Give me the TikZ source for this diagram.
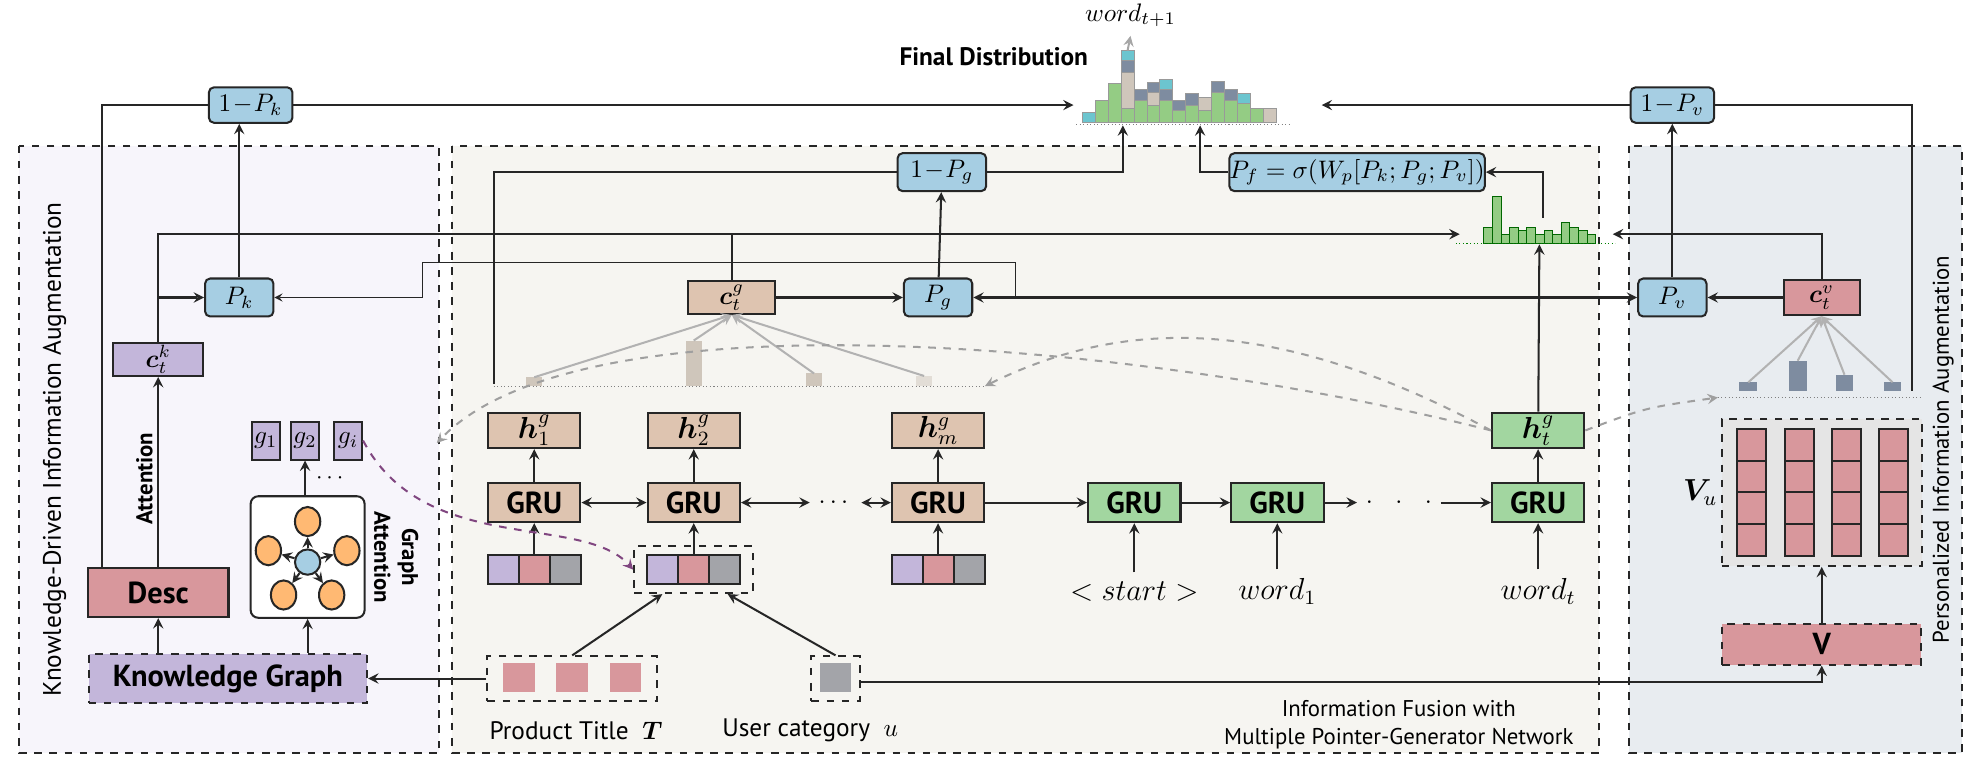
\documentclass[tikz,border=0pt]{standalone}
\usepackage{amsmath}
\usepackage{amssymb}
\usepackage{bm}
\usepackage{fontspec}
\setsansfont{PT Sans}
\usepackage{tikz}
\usetikzlibrary{arrows, shapes, positioning}

\definecolor{pblue}{HTML}{A6CEE3}
\definecolor{ptan}{HTML}{DEC4B0}
\definecolor{ppink}{HTML}{D8979C}
\definecolor{plav}{HTML}{C3B6DA}
\definecolor{pgreen}{HTML}{A2D6A0}
\definecolor{pgray}{HTML}{A3A4A9}
\definecolor{hgreen}{HTML}{94CC84}
\definecolor{hslate}{HTML}{7E8CA0}
\definecolor{hcyan}{HTML}{6CC5CF}
\definecolor{htan}{HTML}{CFC6BB}
\definecolor{bgleft}{HTML}{F7F5FB}
\definecolor{bgmid}{HTML}{F6F5F1}
\definecolor{bgright}{HTML}{E8ECF0}

\begin{document}
\begin{tikzpicture}[x=0.5pt,y=-0.5pt,
  box/.style={draw=black!85,thick,inner sep=0pt},
  pbox/.style={box,fill=pblue,rounded corners=2pt,minimum width=27pt,minimum height=15pt},
  qbox/.style={pbox,minimum width=33pt,minimum height=14pt},
  grubox/.style={box,minimum width=36.5pt,minimum height=15.5pt,font=\sffamily\bfseries\large},
  hbox/.style={box,minimum width=36.5pt,minimum height=14pt,font=\large},
  cell/.style={draw=black!85,thick,minimum width=12.25pt,minimum height=11.5pt,inner sep=0pt},
  arr/.style={-stealth,thick,black!85},
  link/.style={thick,black!85},
  panel/.style={draw=black!85,thick,dashed},
  dcurve/.style={-stealth,thick,dashed,gray!75},
  attn/.style={-stealth,thick,gray!60},
  bar/.style={draw=black!40,line width=0.3pt}]
  \useasboundingbox (0,0) rectangle (1568,608);

  % panels
  \draw[panel,fill=bgleft] (15,115) rectangle (347,595);
  \draw[panel,fill=bgmid] (357,115) rectangle (1263,595);
  \draw[panel,fill=bgright] (1287,115) rectangle (1550,595);
  \node[rotate=90,font=\sffamily] at (43,355) {Knowledge-Driven Information Augmentation};
  \node[rotate=90,font=\sffamily\small] at (1535,355) {Personalized Information Augmentation};
  \node[align=center,anchor=south,font=\sffamily\small,inner sep=1pt] at (1105,594) {Information Fusion with\\Multiple Pointer-Generator Network};

  % final distribution
  \node[font=\sffamily\bfseries] (fdlabel) at (785,45) {Final Distribution};
  \foreach \g/\t/\s/\c [count=\i from 0] in {0/0/0/8, 18/0/0/0, 31/0/0/0, 11/29/9/8, 18/0/8/0, 14/10/8/0, 18/0/8/8, 10/0/8/0, 14/0/9/0, 10/10/0/0, 24/0/9/0, 18/0/8/0, 15/0/0/8, 11/0/0/0, 0/11/0/0}{
    \pgfmathsetmacro\xa{855+10.2*\i}\pgfmathsetmacro\xb{\xa+10.2}
    \pgfmathsetmacro\ya{97-\g}\pgfmathsetmacro\yb{\ya-\t}
    \pgfmathsetmacro\yc{\yb-\s}\pgfmathsetmacro\yd{\yc-\c}
    \ifnum\g>0 \draw[bar,fill=hgreen] (\xa,97) rectangle (\xb,\ya);\fi
    \ifnum\t>0 \draw[bar,fill=htan] (\xa,\ya) rectangle (\xb,\yb);\fi
    \ifnum\s>0 \draw[bar,fill=hslate] (\xa,\yb) rectangle (\xb,\yc);\fi
    \ifnum\c>0 \draw[bar,fill=hcyan] (\xa,\yc) rectangle (\xb,\yd);\fi
  }
  \draw[densely dotted,gray] (850,98) -- (1020,98);
  \coordinate (fdtop) at (890.7,40);
  \coordinate (fdL) at (848,83);
  \coordinate (fdR) at (1044,83);
  \coordinate (fdB1) at (887,99);
  \coordinate (fdB2) at (948,99);
  \node (wnext) at (893,12) {$word_{t+1}$};
  \draw[-stealth,thick,gray!70] (fdtop) -- (wnext.south);

  % small distribution
  \foreach \h [count=\i from 0] in {12,37,7,12,10,12,7,10,7,16,12,10,7}{
    \pgfmathsetmacro\xa{1172+6.8*\i}\pgfmathsetmacro\xb{\xa+6.8}
    \draw[bar,draw=green!40!black,fill=hgreen] (\xa,192) rectangle (\xb,192-\h);
  }
  \draw[densely dotted,green!50!black] (1150,192) -- (1276,192);
  \coordinate (shL) at (1153,185);
  \coordinate (shR) at (1274,185);
  \coordinate (shB) at (1216,193);
  \coordinate (shT) at (1219,172);

  % probability boxes
  \node[qbox] (omk) at (198,83) {$1\!-\!P_k$};
  \node[qbox] (omv) at (1321,83) {$1\!-\!P_v$};
  \node[qbox,minimum width=35pt,minimum height=15pt] (omg) at (744,136) {$1\!-\!P_g$};
  \node[pbox,minimum width=100pt] (pf) at (1072,136) {$P_f=\sigma(W_p[P_k;P_g;P_v])$};
  \node[pbox] (pk) at (189,235) {$P_k$};
  \node[pbox] (pg) at (741,235) {$P_g$};
  \node[pbox] (pv) at (1321,235) {$P_v$};

  % context vectors
  \node[box,fill=ptan,minimum width=34.5pt,minimum height=13pt] (ctg) at (578,235) {$\bm{c}_t^g$};
  \node[box,fill=plav,minimum width=35.5pt,minimum height=13pt] (ctk) at (125,284) {$\bm{c}_t^k$};
  \node[box,fill=ppink,minimum width=30pt,minimum height=14pt] (ctv) at (1439,235) {$\bm{c}_t^v$};

  % encoder / decoder
  \node[grubox,fill=ptan] (g1) at (422,397) {GRU};
  \node[grubox,fill=ptan] (g2) at (548,397) {GRU};
  \node[grubox,fill=ptan] (g3) at (741,397) {GRU};
  \node (bdots) at (660,397) {$\cdots$};
  \node[grubox,fill=pgreen] (gs) at (896,397) {GRU};
  \node[grubox,fill=pgreen] (gw) at (1009,397) {GRU};
  \node[grubox,fill=pgreen] (gt) at (1215,397) {GRU};
  \node (fdots) at (1105,397) {$\cdot\ \ \cdot\ \ \cdot$};
  \node[hbox,fill=ptan] (h1) at (422,340) {$\bm{h}_1^g$};
  \node[hbox,fill=ptan] (h2) at (548,340) {$\bm{h}_2^g$};
  \node[hbox,fill=ptan] (hm) at (741,340) {$\bm{h}_m^g$};
  \node[hbox,fill=pgreen] (ht) at (1215,340) {$\bm{h}_t^g$};
  \node[font=\large] (st) at (896,467) {$<start>$};
  \node[font=\large] (w1) at (1009,467) {$word_1$};
  \node[font=\large] (wt) at (1215,467) {$word_t$};

  \foreach \p/\x in {a/422,b/548,c/741}{
    \node[cell,fill=plav] (\p1) at (\x-24.5,450) {};
    \node[cell,fill=ppink] (\p2) at (\x,450) {};
    \node[cell,fill=pgray] (\p3) at (\x+24.5,450) {};
  }
  \node[panel,inner sep=0pt,minimum width=47pt,minimum height=18.5pt] (inb) at (548,450) {};

  \draw[arr] (a2) -- (g1);
  \draw[arr] (b2) -- (g2);
  \draw[arr] (c2) -- (g3);
  \draw[arr] (g1) -- (h1);
  \draw[arr] (g2) -- (h2);
  \draw[arr] (g3) -- (hm);
  \draw[arr] (gt) -- (ht);
  \draw[arr,stealth-stealth] (g1) -- (g2);
  \draw[arr,stealth-stealth] (g2) -- (bdots);
  \draw[arr,stealth-stealth] (bdots) -- (g3);
  \draw[arr] (g3) -- (gs);
  \draw[arr] (gs) -- (gw);
  \draw[arr] (gw) -- (fdots);
  \draw[arr] (fdots) -- (gt);
  \draw[arr] (st) -- (gs);
  \draw[arr] (w1) -- (gw);
  \draw[arr] (wt) -- (gt);

  % inputs
  \node[panel,inner sep=0pt,minimum width=67pt,minimum height=17.5pt] (pt) at (452,536) {};
  \foreach \x in {410,452,494}
    \fill[ppink] (\x-12.5,524) rectangle (\x+12.5,547);
  \node[panel,inner sep=0pt,minimum width=19pt,minimum height=17.5pt] (uc) at (660,536) {};
  \fill[pgray] (647.5,524) rectangle (672.5,547);
  \node[font=\sffamily] at (455,577) {Product Title\ \ $\bm{T}$};
  \node[font=\sffamily] at (640,577) {User category\ \ $u$};
  \draw[arr] (pt.north) -- ([xshift=11.5pt]inb.south west);
  \draw[arr] (uc.north) -- ([xshift=-10.5pt]inb.south east);

  % knowledge side
  \node[panel,fill=plav,inner sep=0pt,minimum width=110pt,minimum height=19.5pt,font=\sffamily\bfseries\large] (kg) at (180,536) {Knowledge Graph};
  \node[box,fill=ppink,minimum width=55.5pt,minimum height=19.5pt,font=\sffamily\bfseries\large] (desc) at (125,468) {Desc};
  \node[box,fill=white,rounded corners=3pt,minimum width=45pt,minimum height=48pt] (ga) at (243,440) {};
  \node[circle,draw=black!85,thick,fill=pblue,inner sep=0pt,minimum size=10pt] (gc) at (243,444) {};
  \foreach \n/\x/\y in {o1/243/412, o2/212/435, o3/274/435, o4/224/470, o5/262/470}{
    \node[ellipse,draw=black!85,thick,fill=orange!55,inner sep=0pt,minimum width=10pt,minimum height=11.5pt] (\n) at (\x,\y) {};
    \draw[-stealth,thick,black!85] (gc) -- (\n);
  }
  \node[rotate=-90,align=center,font=\sffamily\bfseries\small,inner sep=0pt] at (313,440) {Graph\\Attention};
  \node[box,fill=plav,minimum width=11pt,minimum height=15pt] (gn1) at (210,348) {$g_1$};
  \node[box,fill=plav,minimum width=11pt,minimum height=15pt] (gn2) at (241,348) {$g_2$};
  \node[box,fill=plav,minimum width=11pt,minimum height=15pt] (gni) at (275,348) {$g_i$};
  \node[font=\small] at (262,378) {$\cdots$};
  \draw[arr] (pt.west) -- (kg.east);
  \draw[arr] (kg.north -| desc) -- (desc.south);
  \draw[arr] (kg.north -| ga) -- (ga.south);
  \draw[arr] (ga.north -| gn2) -- (gn2.south);
  \draw[arr] (desc.north) -- (ctk.south);
  \node[rotate=90,font=\sffamily\bfseries\small] at (114,378) {Attention};
  \draw[link] ([xshift=6pt]desc.north west) |- (omk.west);
  \draw[arr] (omk.east) -- (fdL);
  \draw[arr] (pk) -- (pk |- omk.south);
  \draw[arr] (ctk.north) |- (shL);
  \draw[arr] (ctk.north |- pk) -- (pk.west);

  % generator side
  \draw[link] (ctg.north) -- (ctg.north |- shL);
  \draw[arr] (ctg) -- (pg);
  \draw[arr] (pg) -- (omg);
  \draw[arr] (omg.east) -| (fdB1);
  \draw[link] (omg.west) -| (390,303);
  \draw[arr] (pf.west) -| (fdB2);
  \draw[arr] (shT) |- (pf.east);
  \draw[arr] (ht) -- (shB);
  \draw[arr,stealth-stealth] (pg) -- (pv);
  \draw[arr,thin] (802,235) |- (334,207) |- (pk.east);

  % attention over title
  \draw[densely dotted,gray] (390,305) -- (778,305);
  \foreach \x/\h/\c in {422/7/htan, 548/36/htan, 643/10/htan, 730/8/htan!60}{
    \fill[\c] (\x-6.5,305) rectangle (\x+6.5,305-\h);
    \draw[attn] (\x,305-\h) -- (ctg.south);
  }

  % personalized side
  \node[panel,fill=gray!20,inner sep=0pt,minimum width=79pt,minimum height=58pt] (vu) at (1439,389) {};
  \foreach \x in {1383.5,1421.5,1458.5,1496}
    \foreach \y in {351.5,376.5,401.5,426.5}
      \draw[box,fill=ppink] (\x-11.5,\y-12.5) rectangle (\x+11.5,\y+12.5);
  \node[font=\large] at (1343,389) {$\bm{V}_u$};
  \node[panel,fill=ppink,inner sep=0pt,minimum width=78.5pt,minimum height=16pt,font=\sffamily\bfseries\large] (vv) at (1439,509) {V};
  \draw[arr] (vv) -- (vu);
  \draw[arr] (uc.east |- 0,539) -| (vv.south);
  \draw[densely dotted,gray] (1357,314) -- (1518,314);
  \foreach \x/\h in {1381/7,1420/24,1457/13,1495/7}{
    \fill[hslate] (\x-7,309) rectangle (\x+7,309-\h);
    \draw[attn] (\x,309-\h) -- (ctv.south);
  }
  \draw[arr] (ctv) -- (pv);
  \draw[arr] (pv) -- (omv);
  \draw[arr] (omv.west) -- (fdR);
  \draw[link] (omv.east) -| (1510,309);
  \draw[arr] (ctv.north) |- (shR);

  % copy attention curves
  \draw[dcurve] (ht.west) .. controls (1010,250) and (890,250) .. (778,305);
  \draw[dcurve] (ht.west) .. controls (900,270) and (460,230) .. (345,350);
  \draw[dcurve] (ht.east) .. controls (1300,322) .. (1357,314);
  \draw[dcurve,draw=violet!45!gray] (gni.east) .. controls (335,440) and (460,405) .. (inb.west);
\end{tikzpicture}
\end{document}
